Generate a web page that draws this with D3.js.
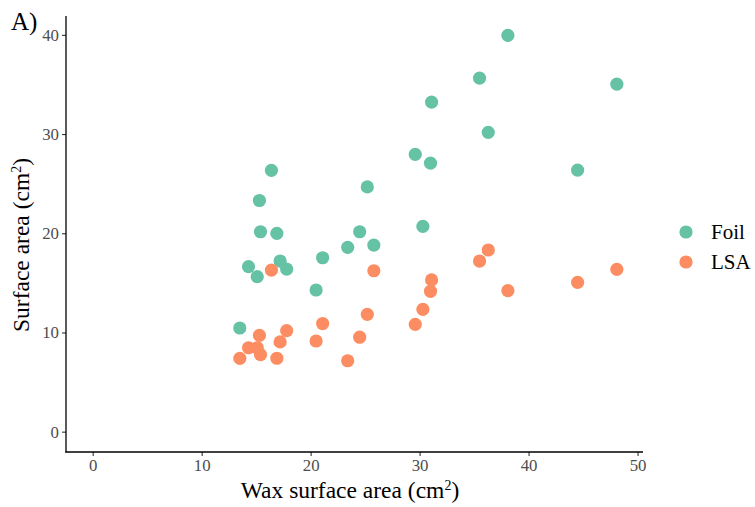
<!DOCTYPE html>
<html>
<head>
<meta charset="utf-8">
<script src="https://cdn.jsdelivr.net/npm/d3@7"></script>
<style>
  body { margin: 0; background: #fff; }
  svg text { font-family: "Liberation Serif", "Times New Roman", serif; }
</style>
</head>
<body>
<div id="chart"></div>
<script>
// wax surface area (cm2), one value per sample
var waxArea = [13.5, 14.3, 15.1, 15.3, 15.4, 16.4, 16.9, 17.2, 17.8, 20.5, 21.1, 23.4,
               24.5, 25.2, 25.8, 29.6, 30.3, 31.0, 31.1, 35.5, 36.3, 38.1, 44.5, 48.1];
// surface area measured with foil
var foilArea = [10.45, 16.63, 15.62, 23.3, 20.15, 26.34, 19.99, 17.2, 16.39, 14.28, 17.53, 18.58,
                20.15, 24.67, 18.81, 27.95, 20.69, 27.07, 33.22, 35.64, 30.17, 39.94, 26.37, 35.03];
// surface area measured with LSA
var lsaArea = [7.39, 8.46, 8.46, 9.7, 7.76, 16.29, 7.4, 9.05, 10.18, 9.14, 10.9, 7.15,
               9.52, 11.83, 16.22, 10.82, 12.33, 14.15, 15.3, 17.2, 18.31, 14.21, 15.05, 16.36];

var seriesNames = ["Foil", "LSA"];
var seriesColors = ["#66C2A5", "#FC8D62"];
var xTicks = [0, 10, 20, 30, 40, 50];
var yTicks = [0, 10, 20, 30, 40];

function drawChart() {
  var width = 755, height = 507;
  var pLeft = 66, pRight = 643, pTop = 16, pBottom = 452;
  var serif = "'Liberation Serif', 'Times New Roman', serif";

  var svg = d3.select("#chart").append("svg")
              .attr("width", width)
              .attr("height", height);

  var x = d3.scaleLinear().domain([-2.45, 50.5]).range([pLeft, pRight]);
  var y = d3.scaleLinear().domain([-2.05, 41.9]).range([pBottom, pTop]);

  // points, foil first then LSA on top
  var allSeries = [foilArea, lsaArea];
  allSeries.forEach(function(vals, s) {
    svg.append("g").attr("class", "series-" + seriesNames[s])
       .selectAll("circle")
       .data(vals).enter()
       .append("circle")
       .attr("cx", function(d, i) { return x(waxArea[i]); })
       .attr("cy", function(d) { return y(d); })
       .attr("r", 6.6)
       .style("fill", seriesColors[s]);
  });

  // axes
  var xAxis = svg.append("g")
                 .attr("transform", "translate(0," + pBottom + ")")
                 .call(d3.axisBottom(x).tickValues(xTicks).tickSize(4).tickPadding(3));
  var yAxis = svg.append("g")
                 .attr("transform", "translate(" + pLeft + ",0)")
                 .call(d3.axisLeft(y).tickValues(yTicks).tickSize(4).tickPadding(3));

  [xAxis, yAxis].forEach(function(ax) {
    ax.attr("font-family", serif).attr("font-size", null);
    ax.select(".domain").remove();
    ax.selectAll(".tick line").style("stroke", "#333").style("stroke-width", 1.1);
    ax.selectAll(".tick text")
      .style("font-size", "16.8px")
      .style("fill", "#4D4D4D")
      .style("font-family", serif);
  });

  // axis lines drawn over tick ends
  svg.append("line")
     .attr("x1", pLeft).attr("x2", pLeft)
     .attr("y1", pTop).attr("y2", pBottom + 0.6)
     .style("stroke", "#000").style("stroke-width", 1.3);
  svg.append("line")
     .attr("x1", pLeft - 0.6).attr("x2", pRight)
     .attr("y1", pBottom).attr("y2", pBottom)
     .style("stroke", "#000").style("stroke-width", 1.3);

  // titles
  var xTitle = svg.append("text")
     .attr("x", 350)
     .attr("y", 498)
     .attr("text-anchor", "middle")
     .style("font-size", "23.5px")
     .text("Wax surface area (cm");
  xTitle.append("tspan").attr("dy", -8).style("font-size", "14px").text("2");
  xTitle.append("tspan").attr("dy", 8).text(")");

  var yTitle = svg.append("text")
     .attr("transform", "translate(29,245) rotate(-90)")
     .attr("text-anchor", "middle")
     .style("font-size", "23.5px")
     .text("Surface area (cm");
  yTitle.append("tspan").attr("dy", -8).style("font-size", "14px").text("2");
  yTitle.append("tspan").attr("dy", 8).text(")");

  svg.append("text")
     .attr("x", 11)
     .attr("y", 30)
     .style("font-size", "25px")
     .text("A)");

  // legend
  var legend = svg.append("g").attr("class", "legend");
  seriesNames.forEach(function(name, i) {
    var ly = 232 + i * 30;
    legend.append("circle")
          .attr("cx", 686).attr("cy", ly).attr("r", 6.6)
          .style("fill", seriesColors[i]);
    legend.append("text")
          .attr("x", 711).attr("y", ly + 6.8)
          .style("font-size", "21px")
          .text(name);
  });
}

drawChart();
</script>
</body>
</html>
